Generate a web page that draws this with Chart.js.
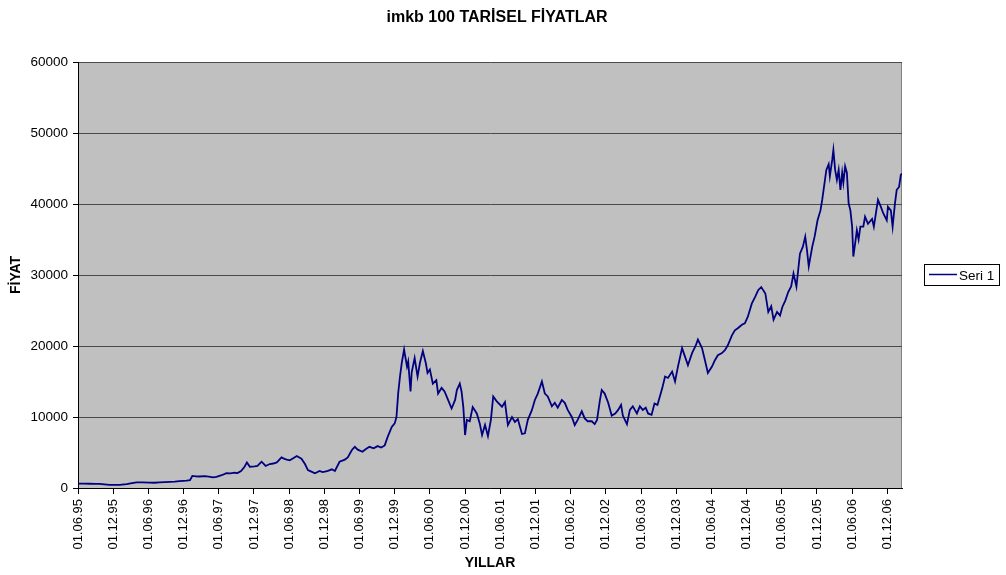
<!DOCTYPE html>
<html>
<head>
<meta charset="utf-8">
<script src="https://cdn.jsdelivr.net/npm/chart.js@4/dist/chart.umd.min.js"></script>
<style>
  body { margin: 0; background: #fff; }
</style>
</head>
<body>
<canvas id="imkbChart" width="1006" height="575"></canvas>
<script>
// months counted from 01.06.1995
const months1995_98 = [0, 1, 2, 3, 3.7, 4.5, 5.4, 6.2, 7.1, 8.3, 9.2, 10, 11, 12.2, 13, 13.9, 14.8, 15.6, 16.5, 17.3, 18.5, 19.1, 19.5, 20.1, 20.7, 21.6, 22.3, 23, 23.6, 24.5, 25.3, 26, 26.7, 27.2, 27.8, 28.4, 28.8, 29.3, 30.1, 30.6, 31.3, 32, 32.7, 33.3, 33.9, 34.7, 35.2, 35.6, 36.1, 36.7, 37.3, 38.1, 38.7, 39.2, 39.8, 40.4, 41.2, 41.7, 42.1, 42.6, 43.3, 43.8];
const values1995_98 = [630, 610, 600, 590, 580, 520, 450, 430, 440, 560, 700, 800, 780, 760, 740, 780, 820, 860, 900, 960, 1030, 1100, 1700, 1650, 1620, 1680, 1600, 1500, 1580, 1800, 2100, 2050, 2150, 2100, 2400, 3000, 3600, 3000, 3050, 3100, 3700, 3100, 3380, 3450, 3600, 4300, 4100, 4000, 3900, 4200, 4500, 4130, 3380, 2530, 2300, 2070, 2400, 2250, 2300, 2400, 2630, 2400];

const months1999_02 = [44.6, 45.5, 46, 46.7, 47.2, 47.7, 48.5, 49.1, 49.7, 50.4, 51.1, 51.7, 52.3, 52.8, 53.5, 54, 54.3, 54.6, 54.9, 55.2, 55.6, 56.1, 56.3, 56.7, 56.9, 57.4, 57.9, 58.3, 58.8, 59.3, 59.6, 60, 60.5, 61.1, 61.4, 62, 62.5, 63.1, 63.7, 64.3, 64.6, 65.1, 65.4, 65.7, 66, 66.3, 66.8, 67.3, 68, 68.5, 68.9, 69.4, 69.9, 70.4, 70.8, 71.4, 72.3, 72.8, 73.3, 74, 74.5, 75, 75.7, 76.2, 76.7, 77.4, 77.9, 78.4, 79.1, 79.6, 80.1, 80.8, 81.3, 81.8, 82.5, 83, 83.5, 84.2, 84.7, 85.2, 85.9, 86.4, 86.9, 87.6, 88.1, 88.5, 89, 89.3, 89.8];
const values1999_02 = [3700, 4000, 4300, 5350, 5800, 5400, 5100, 5500, 5800, 5600, 5900, 5700, 6000, 7200, 8600, 9100, 10000, 13400, 15700, 17600, 19500, 17100, 17800, 13600, 16300, 18300, 15700, 17600, 19300, 17600, 16200, 16700, 14700, 15200, 13300, 14100, 13600, 12400, 11200, 12400, 13800, 14700, 13600, 11400, 7460, 9600, 9400, 11400, 10500, 9100, 7460, 8900, 7320, 9600, 12900, 12200, 11450, 12100, 8870, 10000, 9300, 9700, 7600, 7700, 9600, 11000, 12400, 13300, 15000, 13300, 12900, 11500, 12000, 11300, 12400, 12000, 11000, 10000, 8870, 9600, 10800, 9800, 9400, 9400, 9000, 9600, 12400, 13800, 13300];

const months2003_07 = [90.4, 91, 91.6, 92.1, 92.6, 92.9, 93.6, 94.1, 94.6, 95.3, 95.8, 96.3, 96.8, 97.2, 97.8, 98.3, 98.8, 99.6, 100.1, 100.6, 101.3, 101.8, 102.3, 103, 103.5, 104, 104.7, 105.3, 105.7, 106.4, 106.9, 107.4, 108.1, 108.6, 109.1, 109.8, 110.3, 110.8, 111.5, 112, 112.5, 113.2, 113.7, 114.2, 114.9, 115.5, 116, 116.5, 117.2, 117.7, 118.2, 118.6, 119.2, 119.7, 120.1, 120.6, 121.1, 121.6, 122, 122.5, 122.8, 123.1, 123.6, 124, 124.3, 124.6, 125.2, 125.6, 126.1, 126.6, 126.9, 127.2, 127.6, 128, 128.2, 128.6, 128.8, 129.1, 129.4, 129.7, 130, 130.3, 130.5, 130.8, 131.1, 131.4, 131.7, 132, 132.2, 132.5, 132.8, 133.1, 133.4, 133.9, 134.2, 134.7, 135.4, 135.7, 136.4, 136.9, 137.3, 137.9, 138.1, 138.6, 138.9, 139.3, 139.6, 140, 140.3, 140.5];
const values2003_07 = [12000, 10200, 10500, 11000, 11700, 10200, 9000, 11000, 11500, 10500, 11500, 11000, 11300, 10500, 10300, 11900, 11700, 14000, 15700, 15500, 16400, 15000, 17100, 19700, 18500, 17300, 19000, 20000, 20900, 19700, 18000, 16200, 17100, 18000, 18700, 19000, 19400, 20100, 21500, 22200, 22500, 23000, 23200, 24100, 26000, 27000, 27900, 28300, 27400, 24800, 25600, 23700, 24800, 24300, 25500, 26400, 27600, 28400, 30200, 28350, 30700, 33000, 34000, 35400, 33500, 31200, 34000, 35400, 37700, 39100, 40600, 42400, 44800, 45600, 43900, 46200, 47600, 44800, 43400, 44800, 42000, 44400, 43000, 45300, 44400, 40100, 39100, 36800, 32600, 34400, 36300, 35000, 36800, 36800, 38200, 37200, 37900, 36800, 40600, 39600, 38700, 37700, 39600, 39100, 36800, 40100, 42000, 42400, 44100, 44300];

const xLabels = ['01.06.95', '01.12.95', '01.06.96', '01.12.96', '01.06.97', '01.12.97', '01.06.98', '01.12.98',
  '01.06.99', '01.12.99', '01.06.00', '01.12.00', '01.06.01', '01.12.01', '01.06.02', '01.12.02',
  '01.06.03', '01.12.03', '01.06.04', '01.12.04', '01.06.05', '01.12.05', '01.06.06', '01.12.06'];
const yTicks = [0, 10000, 20000, 30000, 40000, 50000, 60000];

const FONT = 'Arial, "Liberation Sans", sans-serif';

const allMonths = months1995_98.concat(months1999_02, months2003_07);
const allValues = values1995_98.concat(values1999_02, values2003_07);
const points = allMonths.map((m, i) => ({ x: m, y: allValues[i] }));

// grey plot area, title and boxed legend like the Excel original
const excelLook = {
  id: 'excelLook',
  beforeDraw(chart) {
    const { ctx, chartArea: a } = chart;
    ctx.save();
    ctx.fillStyle = '#c0c0c0';
    ctx.fillRect(a.left, a.top, a.right - a.left, a.bottom - a.top);
    ctx.strokeStyle = '#808080';
    ctx.lineWidth = 1;
    ctx.beginPath();
    ctx.moveTo(Math.round(a.right) - 0.5, a.top);
    ctx.lineTo(Math.round(a.right) - 0.5, a.bottom);
    ctx.stroke();
    ctx.restore();
  },
  afterDraw(chart) {
    const ctx = chart.ctx;
    ctx.save();
    // title
    ctx.fillStyle = '#000';
    ctx.font = 'bold 16px ' + FONT;
    ctx.textAlign = 'center';
    ctx.textBaseline = 'alphabetic';
    ctx.fillText('imkb 100 TARİSEL FİYATLAR', 497, 21.5);
    // legend
    ctx.fillStyle = '#fff';
    ctx.fillRect(924.5, 264.5, 75, 21);
    ctx.strokeStyle = '#000';
    ctx.lineWidth = 1;
    ctx.strokeRect(924.5, 264.5, 75, 21);
    ctx.strokeStyle = '#000080';
    ctx.lineWidth = 1.5;
    ctx.beginPath();
    ctx.moveTo(929, 274.5);
    ctx.lineTo(957, 274.5);
    ctx.stroke();
    ctx.fillStyle = '#000';
    ctx.font = '13.5px ' + FONT;
    ctx.textAlign = 'left';
    ctx.fillText('Seri 1', 959, 279.5);
    ctx.restore();
  }
};

new Chart(document.getElementById('imkbChart').getContext('2d'), {
  type: 'line',
  data: {
    datasets: [{
      label: 'Seri 1',
      data: points,
      borderColor: '#000080',
      borderWidth: 1.8,
      pointRadius: 0,
      tension: 0,
      fill: false
    }]
  },
  options: {
    responsive: false,
    animation: false,
    devicePixelRatio: 1,
    layout: { padding: { top: 62, right: 104, bottom: 0, left: 0 } },
    plugins: {
      legend: { display: false },
      title: { display: false },
      tooltip: { enabled: false }
    },
    scales: {
      x: {
        type: 'linear',
        min: 0,
        max: 140.5,
        afterFit(scale) { scale.height = 87; },
        afterBuildTicks(scale) { scale.ticks = xLabels.map((l, i) => ({ value: i * 6 })); },
        ticks: {
          autoSkip: false,
          maxRotation: 90,
          minRotation: 90,
          padding: 5,
          color: '#000',
          font: { family: FONT, size: 13 },
          callback: (v, i) => xLabels[i]
        },
        grid: { drawOnChartArea: false, color: '#000', tickLength: 6 },
        border: { color: '#000' },
        title: {
          display: true,
          text: 'YILLAR',
          color: '#000',
          font: { family: FONT, size: 14, weight: 'bold' },
          padding: { top: 0, bottom: 3.6 }
        }
      },
      y: {
        min: 0,
        max: 60000,
        afterFit(scale) { scale.width = 78; },
        afterBuildTicks(scale) { scale.ticks = yTicks.map(v => ({ value: v })); },
        ticks: {
          padding: 5,
          color: '#000',
          font: { family: FONT, size: 13.5 },
          callback: v => String(v)
        },
        grid: { color: '#4a4a4a', tickColor: '#000', tickLength: 5 },
        border: { color: '#000' },
        title: {
          display: true,
          text: 'FİYAT',
          color: '#000',
          font: { family: FONT, size: 14, weight: 'bold' },
          padding: { top: 7.6, bottom: 0 }
        }
      }
    }
  },
  plugins: [excelLook]
});
</script>
</body>
</html>
